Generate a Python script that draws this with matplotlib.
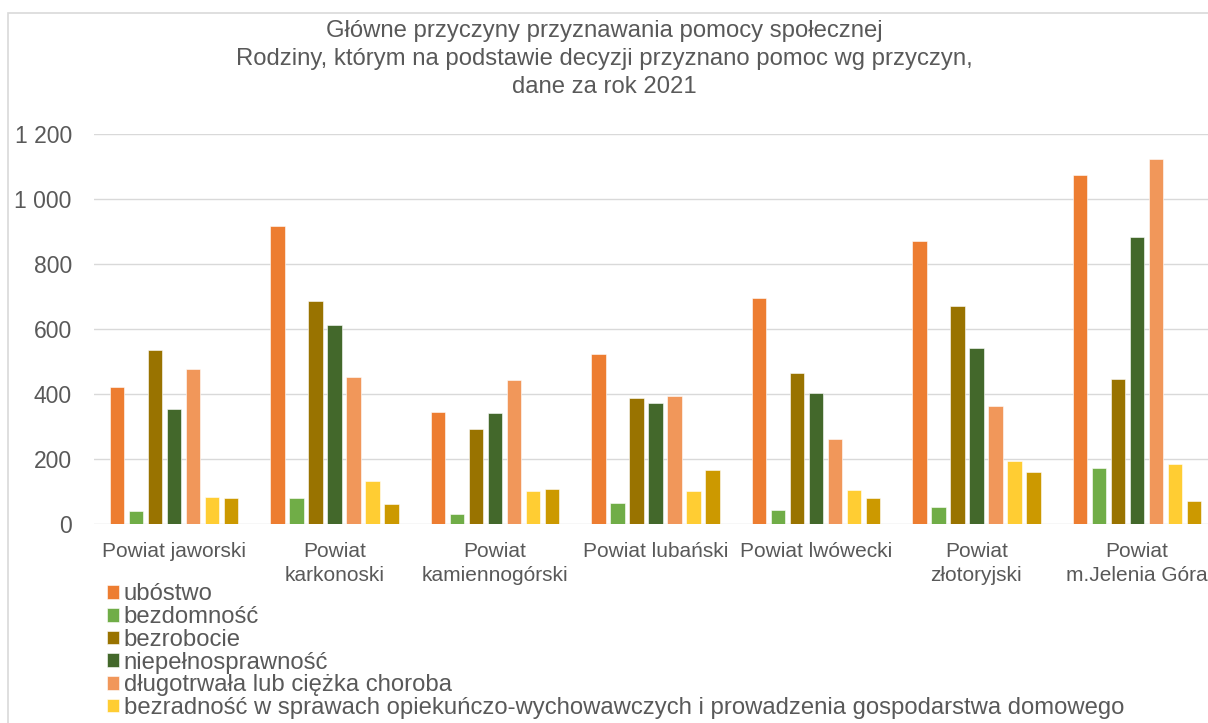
#!/usr/bin/env python
import numpy as np
import matplotlib
matplotlib.use("Agg")
import matplotlib.pyplot as plt
from matplotlib.patches import Rectangle
from matplotlib.ticker import FuncFormatter

powiaty = ["Powiat jaworski", "Powiat\nkarkonoski", "Powiat\nkamiennogórski",
           "Powiat lubański", "Powiat lwówecki", "Powiat\nzłotoryjski",
           "Powiat\nm.Jelenia Góra"]

przyczyny = ["ubóstwo", "bezdomność", "bezrobocie", "niepełnosprawność",
             "długotrwała lub ciężka choroba",
             "bezradność w sprawach opiekuńczo-wychowawczych i prowadzenia gospodarstwa domowego",
             "alkoholizm"]

ubostwo       = [421, 917, 344, 525, 697, 873, 1073]
bezdomnosc    = [42, 80, 33, 67, 45, 52, 174]
bezrobocie    = [536, 688, 292, 390, 464, 670, 446]
niepelnospr   = [354, 613, 341, 374, 403, 541, 885]
choroba       = [479, 454, 444, 394, 261, 363, 1124]
bezradnosc    = [84, 132, 101, 101, 106, 194, 185]
alkoholizm    = [80, 62, 110, 168, 81, 160, 73]

kolory = ["#ED7D31", "#70AD47", "#997300", "#43682B", "#F1975A", "#FFCD33", "#CC9900"]

TXT = "#595959"
GRID = "#D9D9D9"


def main():
  plt.rcParams['font.family'] = ['Liberation Sans', 'DejaVu Sans']

  W, H = 1208, 723
  fig = plt.figure(figsize=(W / 100, H / 100), dpi=100)

  # outer chart frame (cropped at right and bottom in the reference)
  fig.patches.append(Rectangle((8 / W, -0.2), 1.5, 1.2 - 13 / H, transform=fig.transFigure,
                               facecolor="none", edgecolor=GRID, linewidth=1.2))

  left, right, top, bottom = 94, 1217, 134.2, 524.3
  ax = fig.add_axes([left / W, 1 - bottom / H, (right - left) / W, (bottom - top) / H])

  serie = [ubostwo, bezdomnosc, bezrobocie, niepelnospr, choroba, bezradnosc, alkoholizm]
  x = np.arange(len(powiaty))
  pitch = 0.1184
  width = 0.09
  handles = []
  for i, vals in enumerate(serie):
    b = ax.bar(x + (i - 3) * pitch, vals, width=width, color=kolory[i],
               edgecolor="white", linewidth=0.4, label=przyczyny[i], zorder=3)
    handles.append(b)

  ax.set_xlim(-0.5, len(powiaty) - 0.5)
  ax.set_ylim(0, 1200)
  ax.set_yticks(range(0, 1201, 200))
  ax.yaxis.set_major_formatter(FuncFormatter(lambda v, p: f"{int(v):,}".replace(",", " ")))
  ax.grid(axis="y", color=GRID, linewidth=1.0, zorder=0)
  for s in ax.spines.values():
    s.set_visible(False)
  ax.tick_params(axis="y", length=0, pad=16, labelsize=16.5, labelcolor=TXT)
  ax.tick_params(axis="x", length=0, pad=12.5, labelsize=15, labelcolor=TXT)
  ax.set_xticks(x)
  ax.set_xticklabels(powiaty, linespacing=1.34)

  fig.text(604 / W, 1 - 59 / H,
           "Główne przyczyny przyznawania pomocy społecznej\n"
           "Rodziny, którym na podstawie decyzji przyznano pomoc wg przyczyn,\n"
           "dane za rok 2021",
           ha="center", va="center", fontsize=17.2, color=TXT, linespacing=1.38)

  # legend runs past the bottom edge in the reference; only 6 entries are visible
  fig.legend(handles=handles[:6], loc="upper left", bbox_to_anchor=(107 / W, 1 - 583.5 / H),
             frameon=False, fontsize=17.2, handlelength=0.5, handleheight=0.5,
             handletextpad=0.2, labelspacing=0.03, borderpad=0, borderaxespad=0,
             labelcolor=TXT)

  fig.savefig("out.png", dpi=100)


if __name__ == "__main__":
  main()
